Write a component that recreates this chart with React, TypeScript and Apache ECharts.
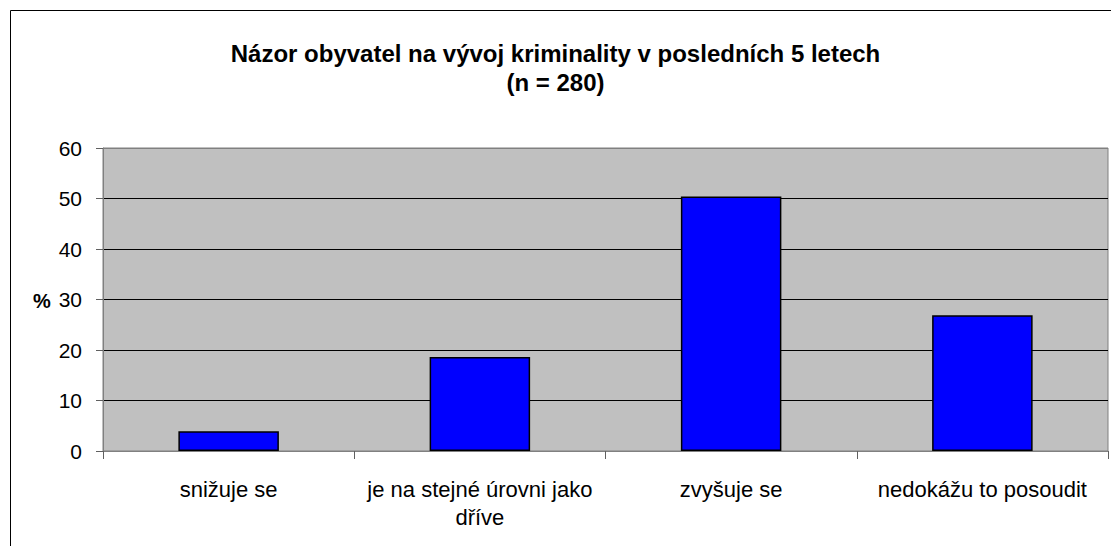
import React, { useEffect, useRef } from "react";
import * as echarts from "echarts";

const categories = ["snižuje se", "je na stejné úrovni jako\ndříve", "zvyšuje se", "nedokážu to posoudit"];
const values = [3.9, 18.6, 50.4, 26.9];
const titleLines = ["Názor obyvatel na vývoj kriminality v posledních 5 letech", "(n = 280)"];
const yName = "%";

const FONT = "'Liberation Sans', Arial, sans-serif";

export default function App() {
  const ref = useRef<HTMLDivElement>(null);
  useEffect(() => {
    if (!ref.current) return;
    const chart = echarts.init(ref.current, null, { renderer: "svg" });
    chart.setOption({
      animation: false,
      backgroundColor: "#fff",
      title: {
        text: titleLines.join("\n"),
        left: "center",
        top: 34,
        textStyle: { fontFamily: FONT, fontSize: 24, fontWeight: "bold", color: "#000", lineHeight: 29 },
      },
      graphic: [
        {
          type: "rect",
          shape: { x: 10.5, y: 10.5, width: 1300, height: 700 },
          style: { fill: "none", stroke: "#000", lineWidth: 1 },
          silent: true,
        },
        {
          type: "text",
          x: 42,
          y: 301,
          style: { text: yName, fontFamily: FONT, fontSize: 20, fontWeight: "bold", fill: "#000", align: "center", verticalAlign: "middle" },
        },
      ],
      grid: {
        left: 103,
        right: 3,
        top: 148,
        bottom: 95,
        show: true,
        backgroundColor: "#C0C0C0",
        borderColor: "#808080",
        borderWidth: 1,
      },
      xAxis: {
        type: "category",
        data: categories,
        axisLine: { lineStyle: { color: "#808080", width: 1 } },
        axisTick: { show: true, alignWithLabel: false, length: 8, lineStyle: { color: "#606060" } },
        axisLabel: { fontFamily: FONT, fontSize: 22, color: "#000", margin: 24, lineHeight: 28, interval: 0 },
      },
      yAxis: {
        type: "value",
        min: 0,
        max: 60,
        interval: 10,
        axisLine: { show: true, lineStyle: { color: "#808080" } },
        axisTick: { show: true, length: 7, lineStyle: { color: "#606060" } },
        axisLabel: { fontFamily: FONT, fontSize: 21, color: "#000", margin: 21 },
        splitLine: {
          show: true,
          lineStyle: { color: ["#808080", "#000", "#000", "#000", "#000", "#000", "#808080"], width: 1 },
        },
      },
      series: [
        {
          type: "bar",
          data: values,
          barWidth: "40%",
          itemStyle: { color: "#0000FF", borderColor: "#000", borderWidth: 1.5 },
        },
      ],
    });
    return () => chart.dispose();
  }, []);
  return <div ref={ref} style={{ position: "fixed", left: 0, top: 0, width: 1111, height: 546 }} />;
}
